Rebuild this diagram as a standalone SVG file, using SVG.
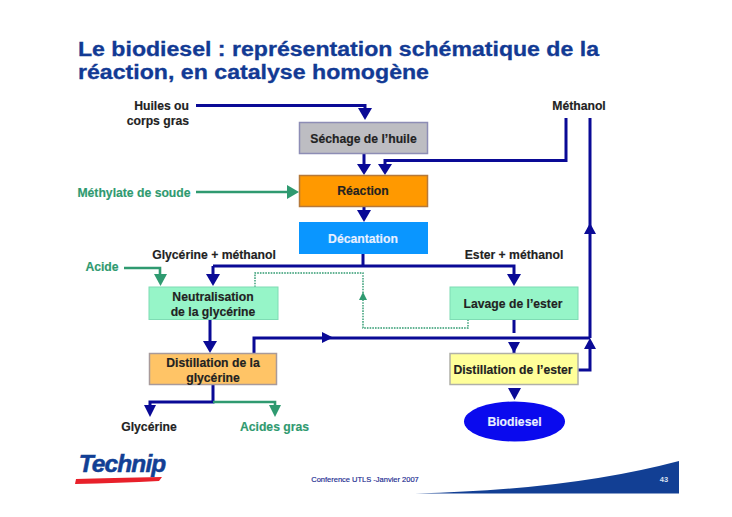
<svg xmlns="http://www.w3.org/2000/svg" width="732" height="517" viewBox="0 0 732 517">
<style>
text{font-family:"Liberation Sans",Arial,sans-serif;font-weight:700;font-size:12.2px;fill:#222;text-anchor:middle;stroke:#222;stroke-width:.15}
.g{fill:#2f9a70;stroke:#2f9a70}
.w{fill:#e8f0ff;stroke:#e8f0ff}
.t{font-size:19.5px;fill:#123a94;stroke:#123a94;stroke-width:.3;text-anchor:start}
.b{fill:none;stroke:#0a0a96;stroke-width:3}
.gr{fill:none;stroke:#2f9a70;stroke-width:2.6}
.d{fill:none;stroke:#2f9a70;stroke-width:1.4;stroke-dasharray:1.6 1.1}
.ab{fill:#0a0a96}
.ag{fill:#2f9a70}
</style>
<rect width="732" height="517" fill="#fff"/>
<g id="title">
<text class="t" x="78" y="56" textLength="521" lengthAdjust="spacingAndGlyphs">Le biodiesel : représentation schématique de la</text>
<text class="t" x="78" y="79" textLength="351" lengthAdjust="spacingAndGlyphs">réaction, en catalyse homogène</text>
</g>
<g id="connectors">
<path class="b" d="M196 105.500H365V112M364 154V166M566 118V160.500H385V166M364 207V213M363 254V266M213 266H514V274M213 266V274M210 319V344M514 320V333M514 344V353M254 353V338H590M578 370H590V349M590 338V118M213 385V402H150V408"/>
<path class="gr" d="M196 192H290M124 268H160V274M213 402H275V408"/>
<path class="d" d="M255 287V273H363V328H468V319"/>
<polygon class="ab" points="358,108 372,108 365,120"/>
<polygon class="ab" points="357,164 371,164 364,175"/>
<polygon class="ab" points="378,164 392,164 385,175"/>
<polygon class="ab" points="357,210 371,210 364,222"/>
<polygon class="ab" points="206,274 220,274 213,286"/>
<polygon class="ab" points="507,274 521,274 514,286"/>
<polygon class="ab" points="203,341 217,341 210,353"/>
<polygon class="ab" points="508,342 520,342 514,353"/>
<polygon class="ab" points="322,332 322,343 333,337.500"/>
<polygon class="ab" points="584,349 596,349 590,338"/>
<polygon class="ab" points="584,234 596,234 590,223"/>
<polygon class="ab" points="508,388 521,388 514.500,400"/>
<polygon class="ab" points="144,405 156,405 150,417"/>
<polygon class="ag" points="287,185 287,199 299,192"/>
<polygon class="ag" points="154,274 167,274 160.500,286"/>
<polygon class="ag" points="269,405 281,405 275,417"/>
<polygon class="ag" points="359,300 367,300 363,292"/>
</g>
<g id="n-huiles"><text x="189" y="110" style="text-anchor:end">Huiles ou</text><text x="189" y="125" style="text-anchor:end">corps gras</text></g>
<g id="n-methanol"><text x="579" y="110">Méthanol</text></g>
<g id="n-methylate"><text class="g" x="134" y="197">Méthylate de soude</text></g>
<g id="n-acide"><text class="g" x="102" y="271">Acide</text></g>
<g id="l-glym"><text x="214" y="259">Glycérine + méthanol</text></g>
<g id="l-esterm"><text x="514" y="259">Ester + méthanol</text></g>
<g id="n-sechage"><rect x="299.500" y="122.500" width="128" height="31" fill="#bdbdc2" stroke="#8d8db5" stroke-width="1.500"/><text x="363.500" y="143">Séchage de l’huile</text></g>
<g id="n-reaction"><rect x="299.500" y="175.500" width="128" height="31" fill="#ff9900" stroke="#b5793a" stroke-width="1.500"/><text x="363" y="195">Réaction</text></g>
<g id="n-decantation"><rect x="299" y="222" width="129" height="32" fill="#0a96ff"/><text class="w" x="363" y="243">Décantation</text></g>
<g id="n-neutralisation"><rect x="149" y="287" width="129" height="32.500" fill="#96f5c8" stroke="#7fdcb4"/><text x="213" y="301">Neutralisation</text><text x="213" y="316">de la glycérine</text></g>
<g id="n-lavage"><rect x="450" y="287" width="128" height="32.500" fill="#96f5c8" stroke="#7fdcb4"/><text x="513" y="308">Lavage de l’ester</text></g>
<g id="n-distgly"><rect x="149.500" y="353.500" width="127" height="31" fill="#ffc466" stroke="#a89a9a" stroke-width="1.500"/><text x="213" y="367">Distillation de la</text><text x="213" y="382">glycérine</text></g>
<g id="n-distester"><rect x="450" y="353.500" width="128" height="31" fill="#ffff99" stroke="#b0b0a8" stroke-width="1.500"/><text x="513" y="374">Distillation de l’ester</text></g>
<g id="n-biodiesel"><ellipse cx="514.500" cy="421.500" rx="50.500" ry="20" fill="#0a0aee"/><text class="w" x="514.500" y="426">Biodiesel</text></g>
<g id="n-glycerine"><text x="149" y="431">Glycérine</text></g>
<g id="n-acides"><text class="g" x="274.500" y="431">Acides gras</text></g>
<g id="footer">
<path d="M415 493.500Q570 490 679 461V493.500Z" fill="#123f94"/>
<text x="365" y="482" style="font-size:7.500px;font-weight:400;fill:#1a2a90;stroke:#1a2a90;stroke-width:.15">Conference UTLS  -Janvier 2007</text>
<text x="664" y="482" style="font-size:7.500px;fill:#d8e0f0;stroke:none">43</text>
<text x="122" y="472" style="font-size:24.500px;font-style:italic;fill:#123f94;stroke:#123f94;stroke-width:.5;letter-spacing:-0.9px">Technip</text>
<path d="M76 479Q110 478 162 477L159 481Q120 483 75 484Z" fill="#e8202a"/>
</g>
</svg>
